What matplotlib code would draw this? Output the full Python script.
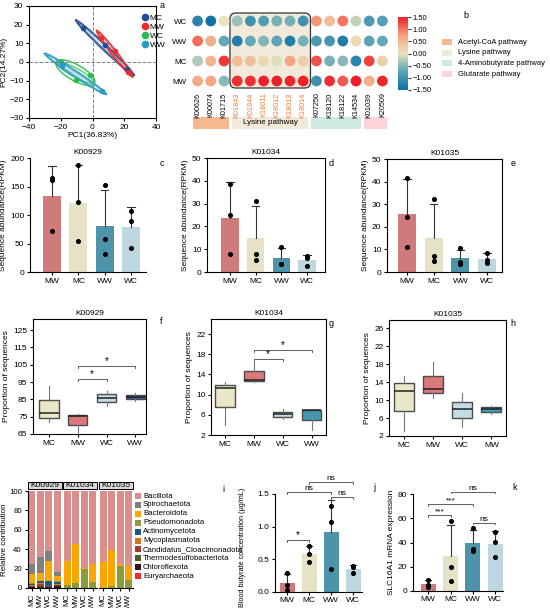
import matplotlib.pyplot as plt
import numpy as np
from matplotlib.patches import Ellipse, Rectangle, FancyBboxPatch
from matplotlib.colors import LinearSegmentedColormap
from matplotlib.lines import Line2D

plt.rcParams['font.family'] = ['Liberation Sans', 'DejaVu Sans']
plt.rcParams['font.size'] = 6
plt.rcParams['axes.linewidth'] = 0.8
plt.rcParams['xtick.labelsize'] = 6
plt.rcParams['ytick.labelsize'] = 6
plt.rcParams['xtick.major.size'] = 2.5
plt.rcParams['ytick.major.size'] = 2.5
plt.rcParams['xtick.major.pad'] = 1.5
plt.rcParams['ytick.major.pad'] = 1.5

# ---------------- data ----------------
# PCA scores
pca_groups = ['MC', 'MW', 'WC', 'WW']
pca_colors = ['#1F4E96', '#EE2B2B', '#2EB84B', '#2A9BC4']
pc1_MC = [-6, 8, 21.5]
pc2_MC = [18, 9, -4]
pc1_MW = [5.4, 14, 22.5]
pc2_MW = [13, 5.8, -5.5]
pc1_WC = [-20, -1.7, -10.6]
pc2_WC = [0, -7.2, -9.9]
pc1_WW = [-19, -19.4, 6]
pc2_WW = [-1, -2.3, -15.8]

# KO dot heatmap (z-scores)
kos = ['K00626', 'K00074', 'K01715', 'K01843', 'K01844', 'K18011', 'K18012',
       'K18013', 'K18014', 'K07250', 'K18120', 'K18122', 'K14534', 'K01039', 'K20509']
heat_rows = ['MW', 'MC', 'WW', 'WC']
z_MW = [0.65, 0.7, -0.5, 1.4, 1.4, 1.5, 1.5, 1.45, 1.5, -1.0, 1.4, 1.15, 1.5, 0.6, 1.45]
z_MC = [-0.3, 0.55, 1.35, 0.45, 0.45, 0.15, -0.05, 0.7, 0.25, 1.2, -0.6, -0.5, -1.2, 1.3, 0.2]
z_WW = [1.05, 0.6, -0.7, -1.3, -0.7, -0.55, -0.75, -1.3, -0.6, -0.9, -0.95, -1.3, 0.1, -0.75, -0.7]
z_WC = [-1.2, -1.5, 0.0, -0.4, -1.0, -0.85, -0.6, -0.6, -1.0, 0.8, 0.45, 1.0, -0.2, -0.9, -0.8]
pathways = ['Acetyl-CoA pathway', 'Lysine pathway', '4-Aminobutyrate pathway', 'Glutarate pathway']
pathway_sizes = [3, 6, 4, 2]
pathway_colors = ['#F6B88E', '#F1EADB', '#CFE9DF', '#FCD3D8']

# sequence abundance (RPKM), three samples per group
bar_groups = ['MW', 'MC', 'WW', 'WC']
bar_colors = ['#CF7B7B', '#E6E2C8', '#4D93A9', '#BDD6DF']
rpkm_K00929 = [[165, 162, 72], [187, 123, 55], [153, 58, 32], [107, 90, 42]]
rpkm_K01034 = [[38.8, 25, 7.8], [31.3, 7.8, 5.1], [11, 3.5, 3.5], [7, 6, 2.5]]
rpkm_K01035 = [[41.5, 24.5, 11], [32.5, 7, 5], [10.5, 4.5, 3.5], [8.5, 5.3, 4]]

# proportion of sequences: (low whisker, q1, median, q3, high whisker)
box_groups = ['MC', 'MW', 'WC', 'WW']
box_groups_h = ['MC', 'MW', 'WC', 'MW']
f_stats = [[72, 74, 77, 84.7, 92.7], [65, 70.2, 75.4, 76, 76.6],
           [81.4, 83.3, 86, 88, 90], [84.2, 85, 86.6, 87.5, 88.5]]
g_stats = [[4.0, 7.6, 11.3, 11.9, 12.5], [12.6, 12.8, 12.9, 14.6, 16.4],
           [5.2, 5.6, 6.2, 6.6, 7.2], [3.0, 4.9, 6.9, 6.95, 7.1]]
h_stats = [[3.2, 7.6, 12.1, 13.7, 15.4], [10.4, 11.5, 12.4, 15.4, 18.4],
           [4.1, 5.9, 8.0, 9.6, 11.5], [7.0, 7.4, 7.9, 8.4, 8.7]]

# phylum contribution (%), bars: K00929 MC,MW,WC,WW | K01034 ... | K01035 ...
contrib_genes = ['K00929', 'K01034', 'K01035']
contrib_groups = ['MC', 'MW', 'WC', 'WW']
phyla = ['Bacillota', 'Spirochaetota', 'Bacteroidota', 'Pseudomonadota', 'Actinomycetota',
         'Mycoplasmatota', 'Candidatus_Cloacimonadota', 'Thermodesulfobacteriota',
         'Chloroflexota', 'Euryarchaeota']
phyla_colors = ['#DB8E8B', '#808080', '#F9A602', '#8E9B3C', '#1F5A86',
                '#D9731E', '#A8382E', '#4F5B2D', '#3A0E1E', '#F8292C']
bacillota = [75.7, 68.3, 61.4, 83.3, 72.0, 55.0, 79.5, 75.4, 73.7, 60.8, 75.4, 77.8]
spirochaetota = [10.0, 16.3, 10.6, 4.7, 0, 0, 0, 0, 0, 0, 0, 0]
bacteroidota = [9.5, 7.9, 20.5, 5.2, 24.6, 39.9, 1.0, 18.1, 25.8, 36.8, 1.7, 13.7]
pseudomonadota = [0.7, 0.3, 0.5, 0.6, 3.4, 5.1, 19.5, 6.5, 0.5, 2.4, 22.9, 8.5]
actinomycetota = [1.5, 2.5, 4.6, 2.5, 0, 0, 0, 0, 0, 0, 0, 0]
mycoplasmatota = [0.5, 0.3, 0.5, 0.3, 0, 0, 0, 0, 0, 0, 0, 0]
cloacimonadota = [1.0, 2.7, 0.8, 0.8, 0, 0, 0, 0, 0, 0, 0, 0]
thermodesulfo = [0.3, 0.7, 0.5, 0.8, 0, 0, 0, 0, 0, 0, 0, 0]
chloroflexota = [0.3, 0.5, 0.3, 1.5, 0, 0, 0, 0, 0, 0, 0, 0]
euryarchaeota = [0.5, 0.5, 0.3, 0.3, 0, 0, 0, 0, 0, 0, 0, 0]

# blood butyrate and SLC16A1
butyrate = [[0.28, 0.11, 0.03], [0.70, 0.575, 0.45], [1.31, 1.07, 0.35], [0.39, 0.38, 0.29]]
slc16a1 = [[8.9, 4.7, 2.8], [57.6, 19.4, 8.3], [52, 34.6, 33.2], [49, 40.2, 27.7]]

# ---------------- layout ----------------
W, H = 550, 608
fig = plt.figure(figsize=(W / 100, H / 100), dpi=100)


def px_box(x0, y0, x1, y1):
    return [x0 / W, 1 - y1 / H, (x1 - x0) / W, (y1 - y0) / H]


def panel_letter(x, y, s):
    fig.text(x / W, 1 - y / H, s, ha='center', va='center', fontsize=6.5)


def conf_ellipse(ax, x, y, color, k=1.35):
    cov = np.cov(x, y)
    vals, vecs = np.linalg.eigh(cov)
    order = vals.argsort()[::-1]
    vals, vecs = vals[order], vecs[:, order]
    angle = np.degrees(np.arctan2(vecs[1, 0], vecs[0, 0]))
    w = 2 * k * np.sqrt(vals[0])
    h = 2 * k * np.sqrt(max(vals[1], 1.5))
    c = (np.mean(x), np.mean(y))
    ax.add_patch(Ellipse(c, w, h, angle=angle, fc=color, alpha=0.12, ec='none'))
    ax.add_patch(Ellipse(c, w, h, angle=angle, fill=False, ec=color, lw=0.9))
    ax.add_patch(Ellipse(c, w * 0.93, h * 0.55, angle=angle, fill=False, ec=color, lw=0.6))


def bracket(ax, x1, x2, y, text, tick, fs=6):
    ax.plot([x1, x1, x2, x2], [y - tick, y, y, y - tick], color='#444', lw=0.6, clip_on=False)
    ax.text((x1 + x2) / 2, y, text, ha='center', va='bottom', fontsize=fs, clip_on=False)


def clean(ax):
    ax.spines['top'].set_visible(False)
    ax.spines['right'].set_visible(False)


# ---- a: PCA ----
ax = fig.add_axes(px_box(29, 6, 156, 118))
pca_x = [pc1_MC, pc1_MW, pc1_WC, pc1_WW]
pca_y = [pc2_MC, pc2_MW, pc2_WC, pc2_WW]
for gx, gy, col in zip(pca_x, pca_y, pca_colors):
    conf_ellipse(ax, gx, gy, col)
    ax.scatter(gx, gy, s=9, color=col, zorder=3)
ax.axhline(0, color='gray', ls='--', lw=0.7)
ax.axvline(0, color='gray', ls='--', lw=0.7)
ax.set_xlim(-40, 40)
ax.set_ylim(-30, 30)
ax.set_xticks([-40, -20, 0, 20, 40])
ax.set_yticks([-30, -20, -10, 0, 10, 20, 30])
ax.set_xlabel('PC1(36.83%)', labelpad=1)
ax.set_ylabel('PC2(14.27%)', labelpad=1)
handles = [Line2D([], [], marker='o', ls='none', color=c, markersize=4.5) for c in pca_colors]
ax.legend(handles, pca_groups, loc='upper right', fontsize=6, frameon=False,
          handletextpad=0.1, labelspacing=0.15, borderaxespad=0.3, handlelength=1,
          bbox_to_anchor=(1.12, 0.98))
panel_letter(162, 6, 'a')

# ---- a: KO dot heatmap ----
cmap = LinearSegmentedColormap.from_list(
    'ko', ['#0F6FA6', '#5AA3B5', '#E9E3BD', '#F6A27D', '#EE1F26'])
ax = fig.add_axes(px_box(191, 11, 389, 91))
ax.set_zorder(2)
lys_start = pathway_sizes[0]
lys_end = pathway_sizes[0] + pathway_sizes[1] - 1
ax.add_patch(FancyBboxPatch((lys_start - 0.55, -0.35), lys_end - lys_start + 1.1, 3.75,
                            boxstyle='round,pad=0,rounding_size=0.45', mutation_aspect=0.66,
                            fc='#F1EADB', ec='#333333', lw=0.9, zorder=0))
for i, vals in enumerate([z_MW, z_MC, z_WW, z_WC]):
    sc = ax.scatter(np.arange(len(kos)), np.full(len(kos), i), c=vals, cmap=cmap,
                    vmin=-1.5, vmax=1.5, s=60, edgecolors='none', zorder=2)
ax.set_xlim(-0.5, len(kos) - 0.5)
ax.set_ylim(-0.5, 3.5)
ax.set_yticks(range(4))
ax.set_yticklabels(heat_rows, fontsize=5.8)
ax.set_xticks(range(len(kos)))
ax.set_xticklabels(kos, rotation=90, fontsize=5.2)
for j, lab in enumerate(ax.get_xticklabels()):
    if lys_start <= j <= lys_end:
        lab.set_color('#F07F3C')
ax.tick_params(length=0, pad=1)
ax.tick_params(axis='y', pad=3)
ax.patch.set_alpha(0)
for s in ax.spines.values():
    s.set_visible(False)

cax = fig.add_axes(px_box(398, 17, 408, 90))
cb = fig.colorbar(sc, cax=cax, ticks=[1.5, 1, 0.5, 0, -0.5, -1, -1.5])
cb.ax.set_yticklabels(['1.50', '1.00', '0.50', '0.00', '\u22120.50', '\u22121.00', '\u22121.50'])
cb.outline.set_visible(False)
cb.ax.tick_params(labelsize=5.4, length=2, width=0.6)

pax = fig.add_axes(px_box(191, 117, 389, 129))
pax.set_zorder(1)
start = 0
for name, n, col in zip(pathways, pathway_sizes, pathway_colors):
    pax.add_patch(Rectangle((start - 0.38, 0), n - 0.24, 1, fc=col, ec='none'))
    if name == 'Lysine pathway':
        pax.text(start + (n - 1) / 2, 0.5, name, ha='center', va='center', fontsize=5.8)
    start += n
pax.set_xlim(-0.5, len(kos) - 0.5)
pax.set_ylim(0, 1)
pax.axis('off')

# ---- b: pathway legend ----
for i, (name, col) in enumerate(zip(pathways, pathway_colors)):
    y = 42 + i * 10.7
    fig.patches.append(Rectangle((442 / W, 1 - (y + 3) / H), 10 / W, 6 / H, fc=col, ec='none',
                                 transform=fig.transFigure))
    fig.text(458 / W, 1 - y / H, name, ha='left', va='center', fontsize=5.5)
panel_letter(466, 15, 'b')


# ---- c, d, e: bar charts ----
def bar_panel(ax, pts, title, ylim, yticks, xlim, boxed, groups, ylabel):
    x = np.arange(len(pts))
    means = [np.mean(p) for p in pts]
    sds = [np.std(p, ddof=1) for p in pts]
    ax.bar(x, means, width=0.68, color=bar_colors, zorder=1)
    for xi, m, s in zip(x, means, sds):
        ax.plot([xi, xi], [m, m + s], color='#333', lw=0.8, zorder=2)
        ax.plot([xi - 0.14, xi + 0.14], [m + s, m + s], color='#333', lw=0.8, zorder=2)
    for xi, p in zip(x, pts):
        ax.scatter(np.full(len(p), xi), p, s=7, color='black', zorder=3, clip_on=False)
    ax.set_xlim(*xlim)
    ax.set_ylim(*ylim)
    ax.set_yticks(yticks)
    ax.set_xticks(x)
    ax.set_xticklabels(groups)
    if title:
        ax.set_title(title, fontsize=6, pad=3)
    ax.set_ylabel(ylabel, labelpad=2)
    if not boxed:
        clean(ax)


ax = fig.add_axes(px_box(30, 158, 146, 272))
bar_panel(ax, rpkm_K00929, 'K00929', (0, 200), [0, 50, 100, 150, 200], (-0.84, 3.57), False,
          bar_groups, 'Sequence abundance(RPKM)')
ax = fig.add_axes(px_box(207, 158, 325, 272))
bar_panel(ax, rpkm_K01034, 'K01034', (0, 50), [0, 10, 20, 30, 40, 50], (-0.9, 3.7), True,
          bar_groups, 'Sequence abundance(RPKM)')
ax = fig.add_axes(px_box(387, 159, 502, 272))
bar_panel(ax, rpkm_K01035, 'K01035', (0, 50), [0, 10, 20, 30, 40, 50], (-0.75, 3.56), True,
          bar_groups, 'Sequence abundance(RPKM)')
panel_letter(162, 164, 'c')
panel_letter(331, 164, 'd')
panel_letter(513, 164, 'e')


# ---- f, g, h: box plots ----
def box_panel(ax, stats, colors, labels, title, ylim, yticks, xlim):
    bs = [dict(whislo=s[0], q1=s[1], med=s[2], q3=s[3], whishi=s[4]) for s in stats]
    bp = ax.bxp(bs, positions=range(len(bs)), widths=0.68, patch_artist=True,
                showfliers=False, showcaps=False,
                boxprops=dict(edgecolor='#4d4d4d', lw=1),
                medianprops=dict(color='#222222', lw=1.1),
                whiskerprops=dict(color='#777777', lw=0.8))
    for patch, c in zip(bp['boxes'], colors):
        patch.set_facecolor(c)
    ax.set_xlim(*xlim)
    ax.set_ylim(*ylim)
    ax.set_yticks(yticks)
    ax.set_xticks(range(len(bs)))
    ax.set_xticklabels(labels)
    ax.set_title(title, fontsize=6, pad=3)
    ax.set_ylabel('Proportion of sequences', labelpad=2)


ax = fig.add_axes(px_box(33, 319, 146, 434))
box_panel(ax, f_stats, ['#EAE6C8', '#D9797A', '#C4DCE6', '#3F5F8E'], box_groups, 'K00929',
          (65, 131.4), range(65, 130, 10), (-0.55, 3.37))
bracket(ax, 1, 2, 96.6, '*', 1.2, fs=7)
bracket(ax, 1, 3, 104.5, '*', 1.2, fs=7)
ax = fig.add_axes(px_box(211, 319, 326, 435))
box_panel(ax, g_stats, ['#EAE6C8', '#D9797A', '#C4DCE6', '#4596B0'], box_groups, 'K01034',
          (2, 25), range(2, 24, 4), (-0.48, 3.5))
bracket(ax, 1, 2, 17.0, '*', 0.4, fs=7)
bracket(ax, 1, 3, 18.8, '*', 0.4, fs=7)
ax = fig.add_axes(px_box(389, 320, 506, 436))
box_panel(ax, h_stats, ['#EAE6C8', '#D9797A', '#C4DCE6', '#3FA0C4'], box_groups_h, 'K01035',
          (2, 27.8), range(2, 28, 4), (-0.5, 3.5))
panel_letter(161, 322, 'f')
panel_letter(331, 323, 'g')
panel_letter(513, 323, 'h')

# ---- i: stacked contribution ----
contrib = [bacillota, spirochaetota, bacteroidota, pseudomonadota, actinomycetota,
           mycoplasmatota, cloacimonadota, thermodesulfo, chloroflexota, euryarchaeota]
facet_boxes = [(27.5, 491, 61.5, 588), (63, 491, 97, 588), (99, 491, 133, 588)]
for g, (gene, fb) in enumerate(zip(contrib_genes, facet_boxes)):
    ax = fig.add_axes(px_box(*fb))
    x = np.arange(4)
    bottom = np.zeros(4)
    for series, col in zip(contrib[::-1], phyla_colors[::-1]):
        vals = np.array(series[g * 4:(g + 1) * 4])
        ax.bar(x, vals, bottom=bottom, width=0.8, color=col)
        bottom += vals
    ax.set_xlim(-0.5, 3.5)
    ax.set_ylim(0, 100)
    ax.set_xticks(x)
    ax.set_xticklabels(contrib_groups, rotation=90, fontsize=5.8)
    clean(ax)
    if g == 0:
        ax.set_yticks([0, 20, 40, 60, 80, 100])
        ax.tick_params(axis='y', labelsize=5.6)
        ax.set_ylabel('Relative contribution', labelpad=1, fontsize=5.8)
    else:
        ax.spines['left'].set_visible(False)
        ax.set_yticks([])
    ax.add_patch(Rectangle((0, 1.02), 1, 0.075, transform=ax.transAxes, fc='#D9D9D9',
                           ec='black', lw=0.7, clip_on=False))
    ax.text(0.5, 1.057, gene, transform=ax.transAxes, ha='center', va='center', fontsize=6)

for i, (name, col) in enumerate(zip(phyla, phyla_colors)):
    y = 496 + i * 8.9
    fig.patches.append(Rectangle((135 / W, 1 - (y + 3) / H), 6 / W, 6 / H, fc=col, ec='none',
                                 transform=fig.transFigure))
    fig.text(143 / W, 1 - y / H, name, ha='left', va='center', fontsize=5.6)
panel_letter(223, 489, 'i')

# ---- j: blood butyrate ----
ax = fig.add_axes(px_box(275, 494, 362, 591.7))
bar_panel(ax, butyrate, None, (0, 1.5), [0, 0.5, 1.0, 1.5], (-0.55, 3.4), False,
          bar_groups, 'Blood butyrate concentration (\u03bcg/mL)')
ax.yaxis.label.set_fontsize(5.2)
ax.yaxis.set_label_coords(-0.33, 0.45)
ax.set_yticklabels(['0.0', '0.5', '1.0', '1.5'])
bracket(ax, 0, 1, 0.79, '*', 0.03, fs=7)
bracket(ax, 0, 2, 1.53, 'ns', 0.03)
bracket(ax, 2, 3, 1.46, 'ns', 0.03)
bracket(ax, 1, 3, 1.68, 'ns', 0.03)
panel_letter(374, 488, 'j')

# ---- k: SLC16A1 ----
ax = fig.add_axes(px_box(412.7, 494.3, 503, 590.7))
bar_panel(ax, slc16a1, None, (0, 80), [0, 20, 40, 60, 80], (-0.7, 3.35), False,
          bar_groups, 'SLC16A1 mRNA expression')
bracket(ax, 0, 1, 62.9, '***', 1.5)
bracket(ax, 0, 2, 72, '***', 1.5)
bracket(ax, 2, 3, 56.5, 'ns', 1.5)
bracket(ax, 1, 3, 82.3, 'ns', 1.5)
panel_letter(515, 488, 'k')

fig.savefig('out.png', dpi=100)
